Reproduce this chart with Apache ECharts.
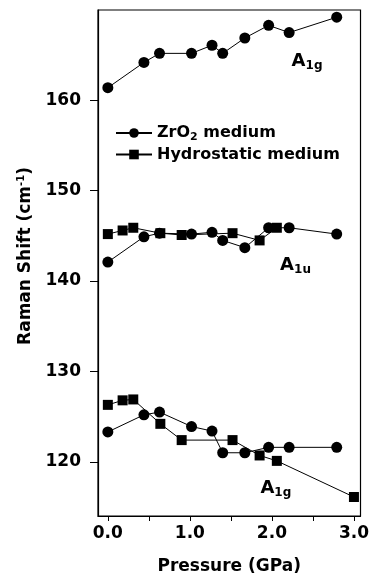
<!DOCTYPE html>
<html><head><meta charset="utf-8">
<script src="https://cdn.jsdelivr.net/npm/echarts@6/dist/echarts.min.js"></script>
<style>html,body{margin:0;padding:0;background:#fff}#c{width:372px;height:585px}</style>
</head><body><div id="c"></div>
<script>
// Pressures (GPa)
const zrPressure = [0.0, 0.44, 0.63, 1.02, 1.27, 1.40, 1.67, 1.96, 2.21, 2.79];
const hydroPressure = [0.0, 0.18, 0.31, 0.64, 0.90, 1.52, 1.85, 2.06, 3.0];
// ZrO2 medium (circles)
const zrA1gHigh = [161.4, 164.2, 165.2, 165.2, 166.1, 165.2, 166.9, 168.3, 167.5, 169.2];
const zrA1u = [142.1, 144.9, 145.3, 145.2, 145.4, 144.5, 143.7, 145.9, 145.9, 145.2];
const zrA1gLow = [123.3, 125.2, 125.5, 123.9, 123.4, 121.0, 121.0, 121.6, 121.6, 121.6];
// Hydrostatic medium (squares)
const hyA1u = [145.2, 145.6, 145.9, 145.3, 145.1, 145.3, 144.5, 145.9];
const hyA1gLow = [126.3, 126.8, 126.9, 124.2, 122.4, 122.4, 120.7, 120.1, 116.1];
// Axis ticks
const yTicks = [120, 130, 140, 150, 160];
const xTicks = [0, 0.5, 1.0, 1.5, 2.0, 2.5, 3.0];
const xLabels = [0, 1, 2, 3];
// Mode labels [x, y, sub]
const modeLabels = [[2.24, 164.3, '1g'], [2.10, 141.7, '1u'], [1.86, 117.1, '1g']];

const FONT = 'DejaVu Sans';
const zip = (xs, ys) => ys.map((v, i) => [xs[i], v]);
function mk(name, xs, ys, sym) {
  return {
    name: name, type: 'line', data: zip(xs, ys), symbol: sym, symbolSize: sym === 'circle' ? 11 : 10,
    showAllSymbol: true,
    lineStyle: {color: '#000', width: 1}, itemStyle: {color: '#000', borderWidth: 0},
    emphasis: {disabled: true}, animation: false
  };
}
const ZR = 'ZrO2 medium', HY = 'Hydrostatic medium';
const chart = echarts.init(document.getElementById('c'), null, {renderer: 'canvas'});
chart.setOption({
  backgroundColor: '#fff',
  animation: false,
  grid: {left: 98, right: 10, top: 10, bottom: 69, show: true, borderColor: '#000', borderWidth: 1.2},
  legend: {
    orient: 'vertical', left: 110, top: 120, itemGap: 4, itemWidth: 36, itemHeight: 12,
    data: [ZR, HY],
    formatter: n => n === ZR ? '{a|ZrO}{s|2}{a| medium}' : '{a|' + n + '}',
    textStyle: {
      fontFamily: FONT, fontWeight: 'bold', fontSize: 16, color: '#000',
      rich: {a: {fontFamily: FONT, fontWeight: 'bold', fontSize: 16, color: '#000'},
             s: {fontFamily: FONT, fontWeight: 'bold', fontSize: 11, color: '#000', padding: [8, 0, 0, 0]}}
    },
    selectedMode: false
  },
  xAxis: {
    type: 'value', min: -0.12, max: 3.08,
    name: 'Pressure (GPa)', nameLocation: 'middle', nameGap: 42,
    nameTextStyle: {fontFamily: FONT, fontWeight: 'bold', fontSize: 17, color: '#000'},
    axisLine: {show: true, onZero: false, lineStyle: {color: '#000', width: 1.2}},
    axisTick: {show: true, inside: false, length: 5, customValues: xTicks, lineStyle: {color: '#000', width: 1}},
    axisLabel: {customValues: xLabels, formatter: v => v.toFixed(1), margin: 9,
      fontFamily: FONT, fontWeight: 'bold', fontSize: 17, color: '#000'},
    splitLine: {show: false}
  },
  yAxis: {
    type: 'value', min: 114, max: 170,
    name: '{a|Raman Shift (cm}{p|-1}{a|)}', nameLocation: 'middle', nameGap: 63, nameRotate: 90,
    nameTextStyle: {fontFamily: FONT, fontWeight: 'bold', fontSize: 17, color: '#000', padding: [0, 0, 0, 14],
      rich: {a: {fontFamily: FONT, fontWeight: 'bold', fontSize: 17, color: '#000'},
             p: {fontFamily: FONT, fontWeight: 'bold', fontSize: 10, color: '#000', padding: [0, 0, 9, 0]}}},
    axisLine: {show: true, onZero: false, lineStyle: {color: '#000', width: 1.2}},
    axisTick: {show: true, inside: false, length: 8, customValues: yTicks, lineStyle: {color: '#000', width: 1}},
    axisLabel: {customValues: yTicks, margin: 17,
      fontFamily: FONT, fontWeight: 'bold', fontSize: 17, color: '#000'},
    splitLine: {show: false}
  },
  series: [
    mk(ZR, zrPressure, zrA1gHigh, 'circle'),
    mk(ZR, zrPressure, zrA1u, 'circle'),
    mk(ZR, zrPressure, zrA1gLow, 'circle'),
    mk(HY, hydroPressure.slice(0, hyA1u.length), hyA1u, 'rect'),
    mk(HY, hydroPressure, hyA1gLow, 'rect')
  ]
});
const g = modeLabels.map(l => {
  const p = chart.convertToPixel({gridIndex: 0}, [l[0], l[1]]);
  return {
    type: 'text', x: p[0], y: p[1], silent: true,
    style: {
      text: '{a|A}{s|' + l[2] + '}', verticalAlign: 'middle', align: 'left',
      rich: {a: {fontFamily: FONT, fontWeight: 'bold', fontSize: 18, fill: '#000'},
             s: {fontFamily: FONT, fontWeight: 'bold', fontSize: 12, fill: '#000', padding: [9, 0, 0, 0]}}
    }
  };
});
chart.setOption({graphic: g});
</script></body></html>
